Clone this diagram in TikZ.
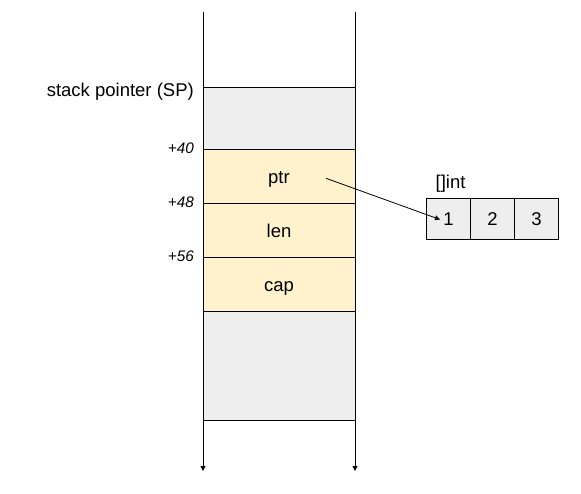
\documentclass[tikz,border=0pt]{standalone}
\usepackage{fontspec}
\setmainfont{Liberation Sans}
\usepackage{tikz}
\usetikzlibrary{arrows.meta,positioning}
\definecolor{free}{HTML}{EEEEEE}
\definecolor{hdr}{HTML}{FFF2CC}
\tikzset{
  cell/.style={draw,line width=1pt,minimum width=152pt,inner sep=0pt,outer sep=0pt,text height=13.2pt,text depth=0pt,font=\fontsize{18.5}{22}\selectfont},
  elem/.style={draw,line width=1pt,fill=free,minimum width=44pt,minimum height=41pt,inner sep=0pt,outer sep=0pt,font=\fontsize{18.5}{22}\selectfont},
  off/.style={anchor=east,inner sep=0pt,font=\fontsize{15.3}{18}\selectfont\itshape},
  rail/.style={line width=1pt,-{Triangle[length=5pt,width=5pt]}}
}

\begin{document}
\begin{tikzpicture}[x=1pt,y=1pt]
  \useasboundingbox (0,0) rectangle (581,493);
  % stack frame
  \node[cell,fill=free,minimum height=62pt] (spTop) at (279,374) {};
  \node[cell,fill=hdr,minimum height=54pt,below=0pt of spTop] (ptr) {ptr};
  \node[cell,fill=hdr,minimum height=54pt,below=0pt of ptr] (len) {len};
  \node[cell,fill=hdr,minimum height=54pt,below=0pt of len] (cap) {cap};
  \node[cell,fill=free,minimum height=108pt,below=0pt of cap] (spBot) {};
  \coordinate (lt) at (203,481); \coordinate (lb) at (203,22);
  \coordinate (rt) at (355,481); \coordinate (rb) at (355,22);
  \draw[rail] (lt) -- (lb);
  \draw[rail] (rt) -- (rb);
  % labels on the left
  \node[anchor=east,inner sep=0pt,font=\fontsize{18.5}{22}\selectfont] (spl) at ([xshift=-9pt,yshift=-4pt]spTop.north west) {stack pointer (SP)};
  \node[off] (o40) at ([xshift=-9pt,yshift=2pt]ptr.north west) {+40};
  \node[off] (o48) at ([xshift=-9pt,yshift=2pt]len.north west) {+48};
  \node[off] (o56) at ([xshift=-9pt,yshift=2pt]cap.north west) {+56};
  % backing array
  \node[elem] (e1) at (448.5,273.5) {1};
  \node[elem,right=0pt of e1] (e2) {2};
  \node[elem,right=0pt of e2] (e3) {3};
  \node[anchor=west,inner sep=0pt,font=\fontsize{18.5}{22}\selectfont] (arr) at ([xshift=9pt,yshift=15pt]e1.north west) {[]int};
  \coordinate (src) at ([xshift=47pt,yshift=-1.3pt]ptr.center);
  \draw[line width=0.8pt,-{Triangle[length=5pt,width=5pt]}] (src) -- ([xshift=-8.5pt]e1.center);
\end{tikzpicture}
\end{document}
